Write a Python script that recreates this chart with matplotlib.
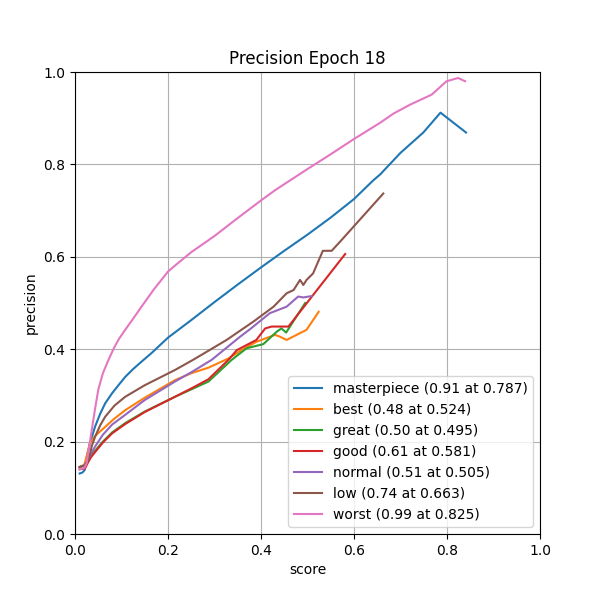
import matplotlib
matplotlib.use("Agg")
import matplotlib.pyplot as plt

masterpiece_x = [0.010, 0.016, 0.021, 0.026, 0.032, 0.043, 0.054, 0.065, 0.080, 0.095, 0.108, 0.125, 0.143, 0.165, 0.183, 0.200, 0.25, 0.30, 0.35, 0.40, 0.45, 0.50, 0.55, 0.60, 0.642, 0.656, 0.70, 0.749, 0.786, 0.841]
masterpiece_y = [0.131, 0.133, 0.139, 0.170, 0.196, 0.232, 0.260, 0.283, 0.305, 0.324, 0.340, 0.357, 0.373, 0.392, 0.409, 0.425, 0.463, 0.502, 0.540, 0.577, 0.613, 0.648, 0.685, 0.725, 0.766, 0.778, 0.825, 0.869, 0.912, 0.869]

best_x = [0.010, 0.020, 0.026, 0.032, 0.043, 0.065, 0.085, 0.108, 0.150, 0.215, 0.250, 0.287, 0.330, 0.358, 0.390, 0.430, 0.441, 0.455, 0.498, 0.524]
best_y = [0.145, 0.150, 0.172, 0.196, 0.212, 0.232, 0.250, 0.268, 0.295, 0.333, 0.348, 0.360, 0.380, 0.398, 0.416, 0.431, 0.427, 0.420, 0.442, 0.481]

great_x = [0.010, 0.020, 0.028, 0.035, 0.043, 0.060, 0.080, 0.108, 0.150, 0.215, 0.250, 0.287, 0.337, 0.369, 0.405, 0.434, 0.444, 0.454, 0.495]
great_y = [0.145, 0.148, 0.160, 0.170, 0.180, 0.200, 0.220, 0.240, 0.265, 0.297, 0.313, 0.330, 0.377, 0.402, 0.411, 0.438, 0.445, 0.436, 0.500]

good_x = [0.010, 0.0215, 0.028, 0.035, 0.043, 0.060, 0.080, 0.108, 0.150, 0.215, 0.250, 0.287, 0.330, 0.348, 0.390, 0.409, 0.423, 0.459, 0.581]
good_y = [0.140, 0.142, 0.155, 0.167, 0.177, 0.198, 0.218, 0.238, 0.264, 0.297, 0.315, 0.335, 0.377, 0.398, 0.420, 0.445, 0.449, 0.449, 0.606]

normal_x = [0.010, 0.020, 0.028, 0.035, 0.043, 0.060, 0.080, 0.108, 0.150, 0.215, 0.250, 0.294, 0.355, 0.376, 0.419, 0.455, 0.480, 0.491, 0.509]
normal_y = [0.145, 0.148, 0.160, 0.175, 0.189, 0.215, 0.237, 0.258, 0.290, 0.330, 0.350, 0.377, 0.427, 0.443, 0.478, 0.492, 0.514, 0.512, 0.515]

low_x = [0.010, 0.020, 0.029, 0.036, 0.043, 0.054, 0.065, 0.085, 0.108, 0.150, 0.215, 0.254, 0.326, 0.384, 0.427, 0.455, 0.470, 0.484, 0.491, 0.498, 0.512, 0.533, 0.552, 0.573, 0.663]
low_y = [0.145, 0.148, 0.160, 0.190, 0.210, 0.235, 0.254, 0.278, 0.297, 0.322, 0.355, 0.377, 0.420, 0.460, 0.492, 0.521, 0.528, 0.550, 0.539, 0.550, 0.564, 0.613, 0.613, 0.636, 0.737]

worst_x = [0.010, 0.020, 0.025, 0.030, 0.036, 0.043, 0.050, 0.060, 0.072, 0.085, 0.095, 0.108, 0.125, 0.143, 0.170, 0.200, 0.215, 0.250, 0.300, 0.350, 0.400, 0.430, 0.500, 0.550, 0.600, 0.656, 0.685, 0.720, 0.767, 0.799, 0.824, 0.839]
worst_y = [0.140, 0.143, 0.153, 0.185, 0.225, 0.270, 0.312, 0.348, 0.377, 0.405, 0.423, 0.442, 0.466, 0.492, 0.530, 0.568, 0.581, 0.610, 0.645, 0.684, 0.722, 0.744, 0.790, 0.822, 0.855, 0.890, 0.910, 0.929, 0.951, 0.980, 0.987, 0.980]

labels = ["masterpiece (0.91 at 0.787)", "best (0.48 at 0.524)", "great (0.50 at 0.495)",
          "good (0.61 at 0.581)", "normal (0.51 at 0.505)", "low (0.74 at 0.663)", "worst (0.99 at 0.825)"]

series = [(masterpiece_x, masterpiece_y), (best_x, best_y), (great_x, great_y), (good_x, good_y),
          (normal_x, normal_y), (low_x, low_y), (worst_x, worst_y)]

fig, ax = plt.subplots(figsize=(6, 6), dpi=100)
for (x, y), lab in zip(series, labels):
    ax.plot(x, y, label=lab)
ax.set_xlim(0, 1)
ax.set_ylim(0, 1)
ax.set_title("Precision Epoch 18")
ax.set_xlabel("score")
ax.set_ylabel("precision")
ax.grid(True)
ax.legend(loc="lower right")
fig.savefig("out.png")
